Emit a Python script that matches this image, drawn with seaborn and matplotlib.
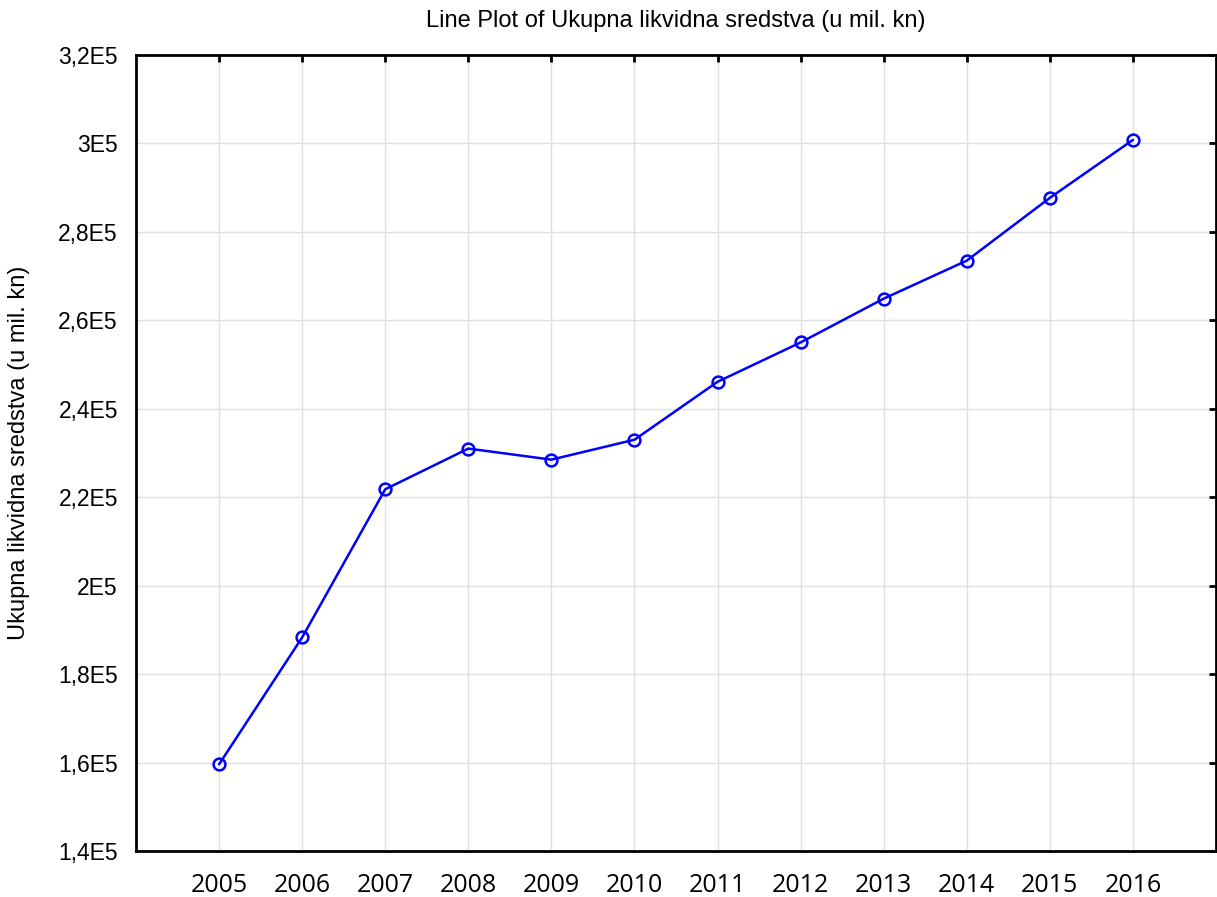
import matplotlib
matplotlib.use('Agg')
import matplotlib.pyplot as plt
import seaborn as sns
import pandas as pd
from matplotlib.ticker import FuncFormatter

years = [2005, 2006, 2007, 2008, 2009, 2010, 2011, 2012, 2013, 2014, 2015, 2016]
values = [159600, 188300, 221800, 231000, 228500, 233000,
          246100, 255000, 264900, 273500, 287700, 300800]
y_ticks = [140000, 160000, 180000, 200000, 220000, 240000,
           260000, 280000, 300000, 320000]

title = 'Line Plot of Ukupna likvidna sredstva (u mil. kn)'
y_label = 'Ukupna likvidna sredstva (u mil. kn)'


def fmt_e(v, pos):
    """Formats values like 2,4E5 / 3E5."""
    m = v / 1e5
    s = f'{m:.1f}'.rstrip('0').rstrip('.')
    return s.replace('.', ',') + 'E5'


sns.set_theme(style='white')
plt.rcParams['font.family'] = ['Liberation Sans', 'DejaVu Sans']

df = pd.DataFrame({'year': years, 'value': values})

fig = plt.figure(figsize=(12.17, 8.97), dpi=100)
ax = fig.add_axes([136 / 1217, 46 / 897, 1080 / 1217, 796 / 897])

sns.lineplot(
    data=df, x='year', y='value', ax=ax,
    color='#0000ff', linewidth=1.8,
    marker='o', markersize=8.5, markerfacecolor='none',
    markeredgecolor='#0000ff', markeredgewidth=1.8
)

ax.set_xlim(2004, 2017)
ax.set_ylim(140000, 320000)
ax.set_xticks(years)
ax.set_yticks(y_ticks)
ax.yaxis.set_major_formatter(FuncFormatter(fmt_e))

ax.grid(True, color='#e0e0e0', linewidth=1)
ax.set_axisbelow(True)

ax.tick_params(axis='both', direction='in', length=5, width=2,
               top=True, right=True, colors='black')
ax.tick_params(axis='x', pad=16)
ax.tick_params(axis='y', pad=13)
for lbl in ax.get_xticklabels():
    lbl.set_fontfamily(['Open Sans', 'DejaVu Sans'])
    lbl.set_fontsize(18)
for lbl in ax.get_yticklabels():
    lbl.set_fontsize(16.5)

for side in ['bottom', 'top', 'left', 'right']:
    ax.spines[side].set_visible(True)
    ax.spines[side].set_color('black')
    ax.spines[side].set_linewidth(2)

ax.set_xlabel('')
ax.set_ylabel(y_label, fontsize=17, color='black')
ax.yaxis.set_label_coords(-0.098, 0.5)
ax.set_title(title, fontsize=17, pad=20, color='black')

fig.savefig('out.png', dpi=100)
